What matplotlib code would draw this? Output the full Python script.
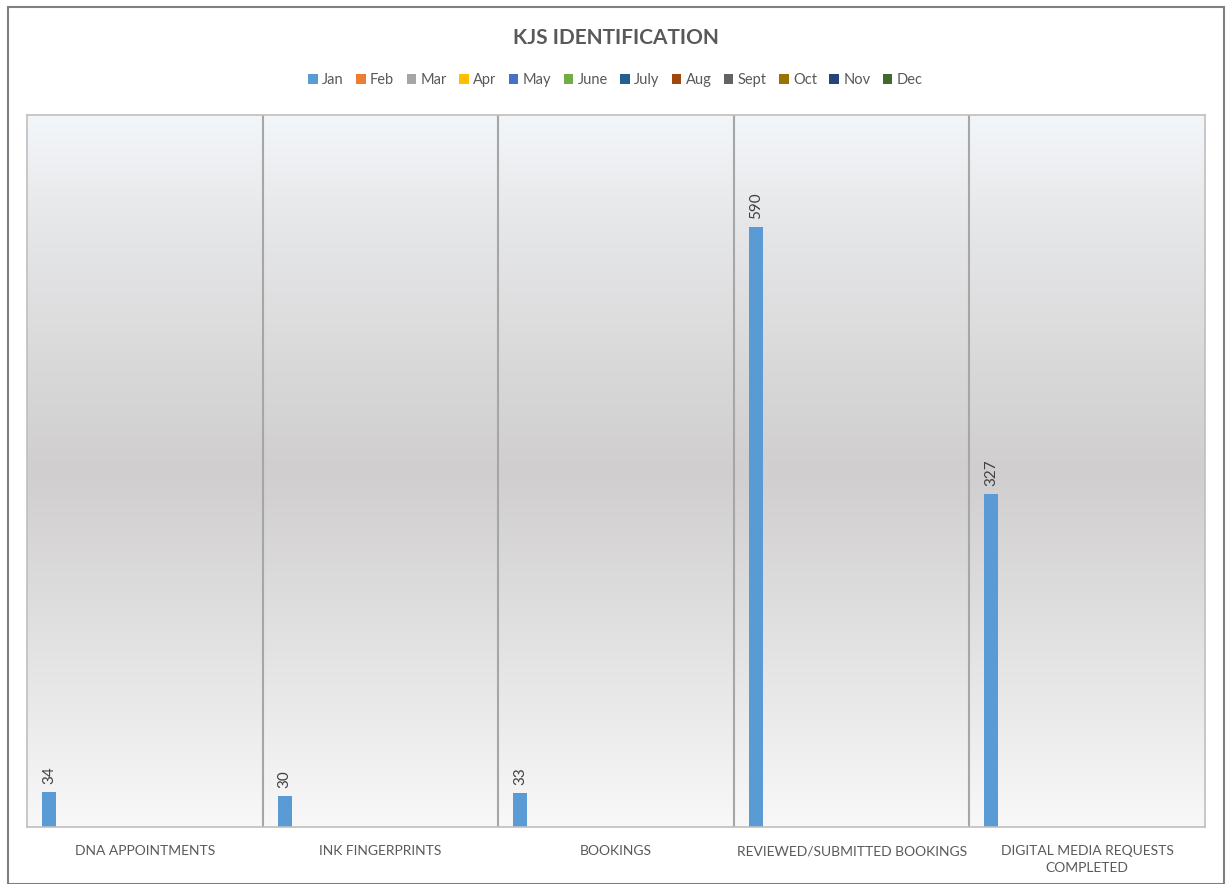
import numpy as np
import matplotlib.pyplot as plt
from matplotlib.colors import LinearSegmentedColormap
from matplotlib.patches import Rectangle

plt.rcParams['font.family'] = ['Lato', 'DejaVu Sans']

categories = ["DNA APPOINTMENTS", "INK FINGERPRINTS", "BOOKINGS",
              "REVIEWED/SUBMITTED BOOKINGS", "DIGITAL MEDIA REQUESTS\nCOMPLETED"]
months = ["Jan", "Feb", "Mar", "Apr", "May", "June", "July", "Aug",
          "Sept", "Oct", "Nov", "Dec"]
month_colors = ["#5B9BD5", "#ED7D31", "#A5A5A5", "#FFC000", "#4472C4", "#70AD47",
                "#255E91", "#9E480E", "#636363", "#997300", "#264478", "#43682B"]

jan = [34, 30, 33, 590, 327]
# remaining months have not been reported yet
values = {m: [np.nan] * len(categories) for m in months}
values["Jan"] = jan

fig = plt.figure(figsize=(12.31, 8.84), dpi=100)
fig.patch.set_facecolor("white")

# chart border
fig.add_artist(Rectangle((8 / 1231, 0.0), (1224 - 8) / 1231, 1 - 7 / 884,
                         transform=fig.transFigure, fill=False,
                         edgecolor="#7f7f7f", linewidth=1.5))

ax = fig.add_axes([27 / 1231, 1 - 827 / 884, (1205 - 27) / 1231, (827 - 115) / 884])

# vertical gradient background: light at top and bottom, grey in the middle
cmap = LinearSegmentedColormap.from_list(
    "bg", [(0.0, "#f8f8f8"), (0.15, "#ebebeb"), (0.5, "#d0cece"),
           (0.85, "#e6e7e9"), (1.0, "#f3f6f9")])
grad = np.linspace(0, 1, 256).reshape(-1, 1)
ax.imshow(grad, cmap=cmap, aspect="auto", extent=[0, 1, 0, 1],
          transform=ax.transAxes, zorder=0, origin="lower")

n = len(months)
x = np.arange(len(categories))
edge = 0.064
slot = (1 - 2 * edge) / n
bar_w = 0.059
for i, m in enumerate(months):
    pos = x - 0.5 + edge + slot * i + bar_w / 2
    bars = ax.bar(pos, values[m], width=bar_w, color=month_colors[i],
                  label=m, zorder=3)
    for rect, v in zip(bars, values[m]):
        if not np.isnan(v):
            ax.text(rect.get_x() + rect.get_width() / 2, v + 8, f"{v:g}",
                    rotation=90, ha="center", va="bottom", fontsize=11,
                    color="#404040", zorder=4)

ax.set_xlim(-0.5, len(categories) - 0.5)
ax.set_ylim(0, 700)
ax.set_yticks([])
ax.set_xticks(x)
ax.set_xticklabels(categories, fontsize=10, color="#595959", linespacing=1.5)
ax.tick_params(axis="x", length=0, pad=13)
for b in x[:-1] + 0.5:
    ax.axvline(b, color="#a6a6a6", linewidth=1.5, zorder=2)
for s in ax.spines.values():
    s.set_color("#bfbfbf")
    s.set_linewidth(1.2)
    s.set_zorder(5)

fig.text(0.5, 1 - 38 / 884, "KJS IDENTIFICATION", ha="center", va="center",
         fontsize=15, fontweight="bold", color="#595959")

leg = fig.legend(loc="center", bbox_to_anchor=(0.5, 1 - 80 / 884), ncol=12,
                 frameon=False, fontsize=10.5, handlelength=0.65, handleheight=0.65,
                 handletextpad=0.3, columnspacing=0.85, labelcolor="#595959")

fig.savefig("out.png", dpi=100)
